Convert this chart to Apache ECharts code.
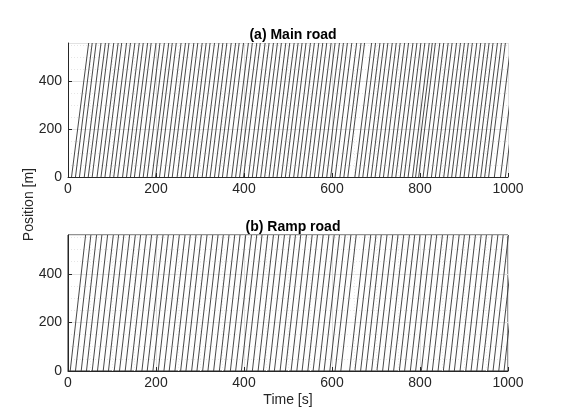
<!DOCTYPE html>
<html>
<head>
<meta charset="utf-8">
<script src="https://cdn.jsdelivr.net/npm/echarts@6/dist/echarts.min.js"></script>
<style>
  html, body { margin: 0; padding: 0; background: #fff; }
  #chart { width: 571px; height: 415px; }
</style>
</head>
<body>
<div id="chart"></div>
<script>
// vehicle entry / exit times [s] (road length 560 m)
var roadLength = 560;
var mainEntry = [8, 17, 26, 37, 46, 55, 66, 75, 84, 95, 104, 113, 124, 133, 142, 151, 162, 171, 180, 191,
  199, 208, 219, 228, 237, 248, 257, 266, 276, 285, 294, 305, 314, 323, 333, 342, 351, 361, 372, 381,
  390, 399, 410, 419, 428, 438, 447, 457, 466, 475, 485, 494, 503, 513, 522, 531, 541, 550, 560, 569,
  578, 588, 597, 607, 618, 627, 636, 652, 661, 670, 680, 689, 698, 708, 717, 727, 736, 745, 755, 764,
  773, 783, 790, 797, 807, 816, 826, 835, 844, 854, 863, 872, 881, 891, 900, 910, 919, 928, 938, 947,
  956, 969, 983, 994];
var mainExit = [47, 55, 64, 75, 85, 93, 104, 114, 122, 133, 142, 152, 162, 171, 181, 189, 200, 209, 219, 229,
  237, 246, 257, 267, 275, 286, 295, 305, 314, 323, 333, 343, 352, 361, 371, 381, 389, 399, 410, 419,
  429, 437, 448, 457, 467, 476, 485, 495, 504, 514, 523, 532, 541, 551, 560, 570, 579, 588, 598, 607,
  617, 626, 635, 645, 656, 666, 674, 690, 699, 709, 718, 727, 737, 746, 755, 765, 774, 784, 793, 802,
  811, 821, 828, 835, 845, 854, 864, 873, 883, 892, 901, 910, 919, 929, 938, 948, 957, 966, 976, 985,
  994, 1007, 1021, 1032];
var rampEntry = [5, 17, 30, 42, 55, 67, 80, 92, 105, 117, 130, 143, 155, 168, 180, 193, 205, 218, 230, 243,
  256, 268, 281, 293, 306, 318, 331, 344, 356, 369, 381, 394, 406, 419, 432, 444, 457, 469, 482, 494,
  507, 520, 532, 545, 557, 570, 582, 595, 607, 620, 640, 652, 665, 677, 690, 702, 715, 728, 740, 753,
  765, 778, 790, 803, 816, 828, 841, 853, 866, 878, 891, 904, 916, 929, 941, 954, 966, 979, 991];
var rampExit = [40, 52, 65, 77, 90, 103, 115, 127, 140, 153, 165, 178, 190, 203, 216, 228, 240, 253, 266, 278,
  291, 303, 316, 329, 341, 353, 366, 379, 391, 404, 417, 429, 441, 454, 467, 479, 492, 505, 517, 529,
  542, 555, 567, 580, 593, 605, 617, 630, 643, 655, 675, 688, 700, 712, 725, 738, 750, 763, 776, 788,
  800, 813, 826, 838, 851, 863, 876, 889, 901, 913, 926, 939, 951, 964, 977, 989, 1001, 1014, 1026];
var timeMax = 1000;
var posTicks = 200;

function trajectories(entry, exit) {
  var out = [];
  for (var i = 0; i < entry.length; i++) {
    out.push({ coords: [[entry[i], 0], [exit[i], roadLength]] });
  }
  return out;
}

var font = "'Liberation Sans', Arial, sans-serif";
var axisColor = "#262626";
var plain = function (v) { return String(v); };

function xAxisCfg(idx, named) {
  return {
    gridIndex: idx, type: "value", min: 0, max: timeMax, interval: 200,
    name: named ? "Time [s]" : "", nameLocation: "middle", nameGap: 22,
    nameTextStyle: { color: axisColor, fontFamily: font, fontSize: 14 },
    axisLine: { show: true, lineStyle: { color: axisColor, width: 1 } },
    axisTick: { show: true, inside: true, length: 4, lineStyle: { color: axisColor } },
    axisLabel: { color: axisColor, fontFamily: font, fontSize: 14, margin: 5, formatter: plain },
    splitLine: { show: true, lineStyle: { color: "#e2e2e2", width: 1 } },
    minorTick: { show: false, splitNumber: 4 },
    minorSplitLine: { show: true, lineStyle: { color: "#eeeeee", type: [1, 2], width: 1 } }
  };
}
function yAxisCfg(idx) {
  return {
    gridIndex: idx, type: "value", min: 0, max: roadLength, interval: posTicks,
    axisLine: { show: true, lineStyle: { color: axisColor, width: 1 } },
    axisTick: { show: true, inside: true, length: 4, lineStyle: { color: axisColor } },
    axisLabel: { color: axisColor, fontFamily: font, fontSize: 14, margin: 6, showMaxLabel: false, formatter: plain },
    splitLine: { show: true, lineStyle: { color: "#e2e2e2", width: 1 } },
    minorTick: { show: false, splitNumber: 4 },
    minorSplitLine: { show: true, lineStyle: { color: "#e6e6e6", type: [1, 2], width: 1 } }
  };
}

var chart = echarts.init(document.getElementById("chart"));
chart.setOption({
  backgroundColor: "#fff",
  animation: false,
  title: [
    { text: "(a) Main road", left: 288, top: 23, textAlign: "center",
      textStyle: { fontFamily: font, fontSize: 14, fontWeight: "bold", color: "#000" } },
    { text: "(b) Ramp road", left: 288, top: 215, textAlign: "center",
      textStyle: { fontFamily: font, fontSize: 14, fontWeight: "bold", color: "#000" } }
  ],
  graphic: [{
    type: "text", left: 22, top: 168, rotation: Math.PI / 2,
    style: { text: "Position [m]", fill: axisColor, font: "14px " + font }
  }],
  grid: [
    { left: 68, right: 63, top: 43, bottom: 238 },
    { left: 68, right: 63, top: 235, bottom: 44, show: true, borderColor: axisColor, borderWidth: 1 }
  ],
  xAxis: [xAxisCfg(0, false), xAxisCfg(1, true)],
  yAxis: [yAxisCfg(0), yAxisCfg(1)],
  series: [
    { type: "lines", coordinateSystem: "cartesian2d", xAxisIndex: 0, yAxisIndex: 0, clip: true,
      lineStyle: { color: "#333333", width: 0.9, opacity: 1 }, data: trajectories(mainEntry, mainExit) },
    { type: "lines", coordinateSystem: "cartesian2d", xAxisIndex: 1, yAxisIndex: 1, clip: true,
      lineStyle: { color: "#333333", width: 0.9, opacity: 1 }, data: trajectories(rampEntry, rampExit) }
  ]
});
</script>
</body>
</html>
